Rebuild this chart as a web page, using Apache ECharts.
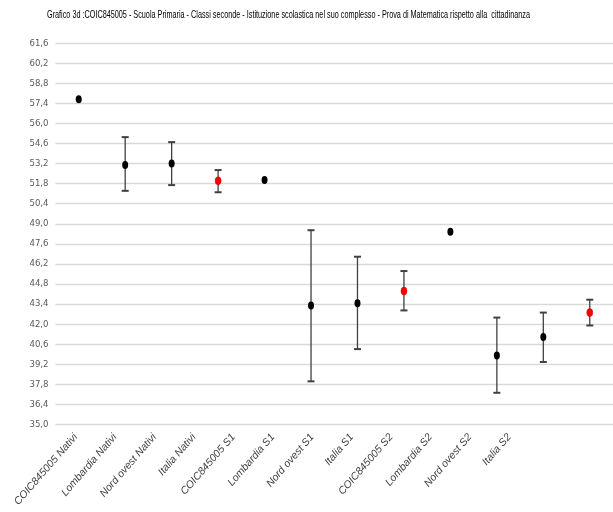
<!DOCTYPE html>
<html><head><meta charset="utf-8">
<script src="https://cdn.jsdelivr.net/npm/echarts@6/dist/echarts.min.js"></script>
<style>html,body{margin:0;padding:0;background:#fff}#c{width:613px;height:512px}</style>
</head><body><div id="c"></div>
<script>
var titleText = "Grafico 3d :COIC845005 - Scuola Primaria - Classi seconde - Istituzione scolastica nel suo complesso - Prova di Matematica rispetto alla  cittadinanza";
var categories = ["COIC845005 Nativi","Lombardia Nativi","Nord ovest Nativi","Italia Nativi","COIC845005 S1","Lombardia S1","Nord ovest S1","Italia S1","COIC845005 S2","Lombardia S2","Nord ovest S2","Italia S2"];
var means = [57.7, 53.1, 53.2, 52.0, 52.05, 43.3, 43.45, 44.3, 48.45, 39.8, 41.1, 42.8];
var lows  = [null, 51.3, 51.7, 51.2, null, 38.0, 40.25, 42.95, null, 37.2, 39.35, 41.9];
var highs = [null, 55.05, 54.7, 52.75, null, 48.55, 46.7, 45.7, null, 42.45, 42.8, 43.7];
var yMin = 35.0, yMax = 61.6, yStep = 1.4;

function isItalia(i){ return categories[i].indexOf("Italia") === 0; }
var blackPts = [], redPts = [], bars = [];
for (var i = 0; i < categories.length; i++) {
  (isItalia(i) ? redPts : blackPts).push([i, means[i]]);
  if (lows[i] != null) bars.push([i, lows[i], highs[i]]);
}
var narrow = "'DejaVu Sans Condensed','Liberation Sans Narrow',sans-serif";
var chart = echarts.init(document.getElementById('c'), null, {renderer:'canvas'});
chart.setOption({
  animation:false,
  backgroundColor:'#fff',
  graphic:[{type:'text',x:47,y:15,scaleX:0.66,style:{text:titleText,font:"11px 'Liberation Sans', Arial, sans-serif",fill:'#000',textVerticalAlign:'middle',verticalAlign:'middle'}}],
  grid:[{left:55.5,right:-5,top:43.3,bottom:87.7},{left:56,width:473,top:43.3,bottom:87.7}],
  xAxis:[{type:'category',gridIndex:0,data:categories,boundaryGap:true,axisLine:{show:false},axisTick:{show:false},axisLabel:{show:false},splitLine:{show:false}},
         {type:'category',gridIndex:1,data:categories,boundaryGap:true,axisLine:{show:false},axisTick:{show:false},splitLine:{show:false},
          axisLabel:{interval:0,rotate:49,margin:11,fontFamily:"'Liberation Sans',Arial,sans-serif",fontStyle:'italic',fontSize:10.5,color:'#404040'}}],
  yAxis:[{type:'value',gridIndex:0,min:yMin,max:yMax,interval:yStep,axisLine:{show:false},axisTick:{show:false},
          splitLine:{lineStyle:{color:'#d9d9d9',width:1.3}},
          axisLabel:{margin:7,fontFamily:narrow,fontSize:9.5,color:'#595959',formatter:function(v){return v.toFixed(1).replace('.',',');}}},
         {type:'value',gridIndex:1,min:yMin,max:yMax,show:false}],
  series:[
    {type:'custom',xAxisIndex:0,yAxisIndex:0,data:bars,z:2,
     renderItem:function(params,api){
       var x=api.value(0), lo=api.coord([x,api.value(1)]), hi=api.coord([x,api.value(2)]);
       var hw=3.5, st={stroke:'#404040',lineWidth:1.3};
       return {type:'group',children:[
         {type:'line',shape:{x1:lo[0],y1:lo[1],x2:hi[0],y2:hi[1]},style:st},
         {type:'line',shape:{x1:lo[0]-hw,y1:lo[1],x2:lo[0]+hw,y2:lo[1]},style:{stroke:'#404040',lineWidth:2}},
         {type:'line',shape:{x1:hi[0]-hw,y1:hi[1],x2:hi[0]+hw,y2:hi[1]},style:{stroke:'#404040',lineWidth:2}}
       ]};
     }},
    {type:'scatter',xAxisIndex:0,yAxisIndex:0,data:blackPts,symbol:'circle',symbolSize:[6,8],z:3,itemStyle:{color:'#000',opacity:1}},
    {type:'scatter',xAxisIndex:0,yAxisIndex:0,data:redPts,symbol:'circle',symbolSize:[6,8],z:3,itemStyle:{color:'#ff0000',borderColor:'#c00000',borderWidth:0.5,opacity:1}}
  ]
});
</script></body></html>
